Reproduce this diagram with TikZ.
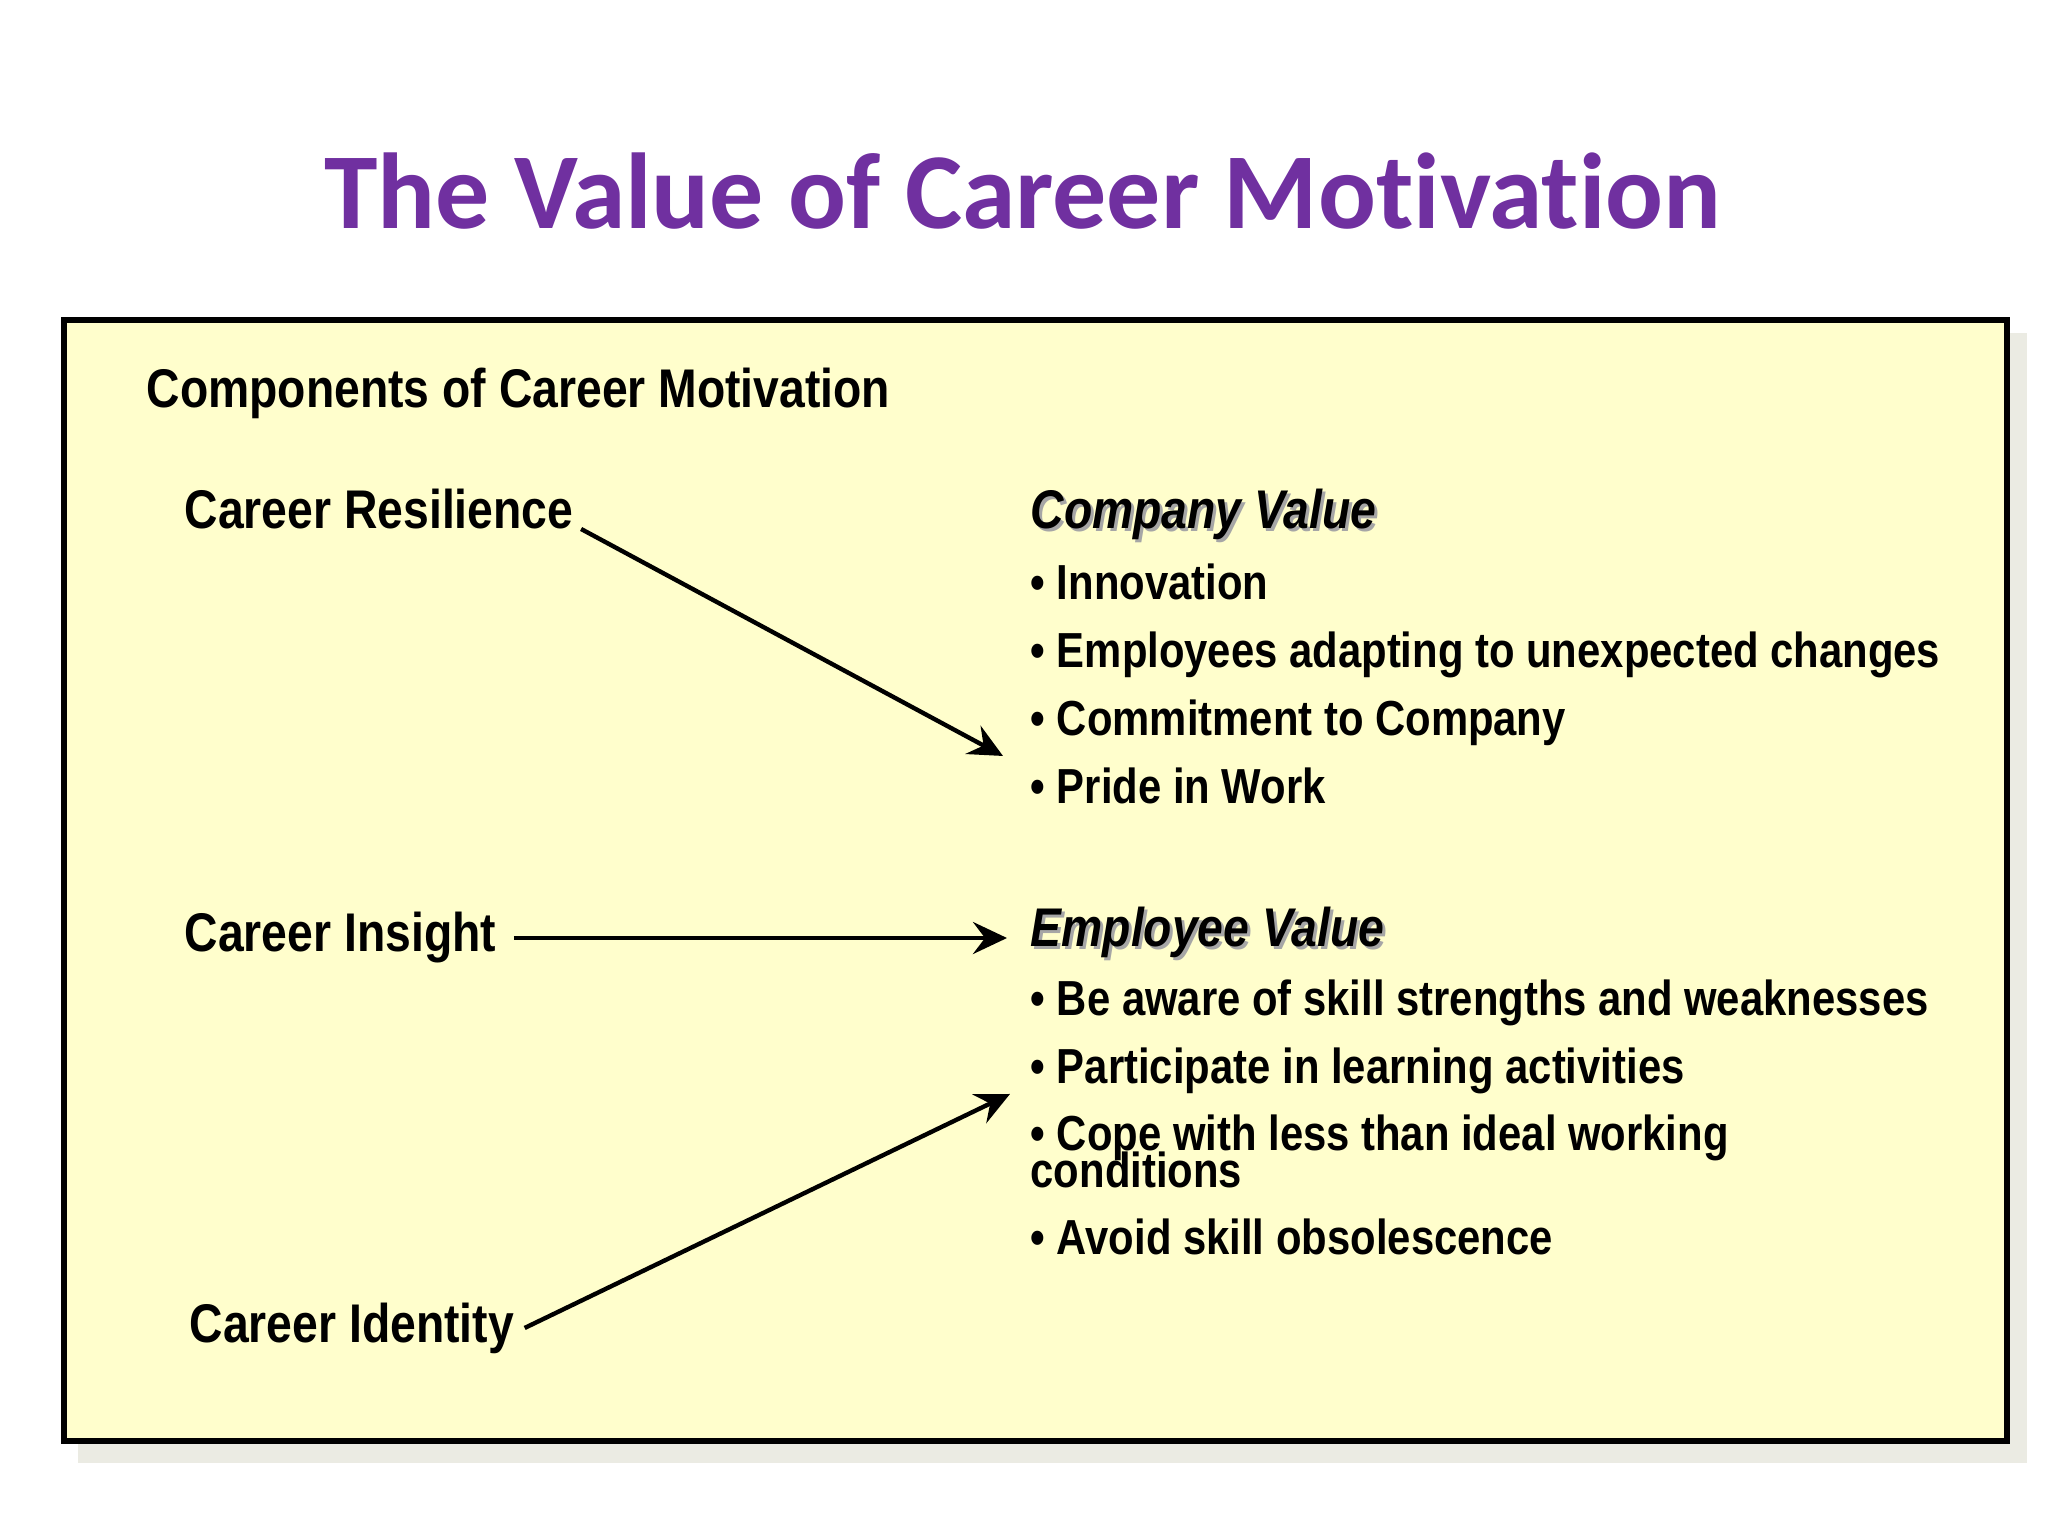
\documentclass[tikz,border=0pt]{standalone}
\usepackage{fontspec}
\usepackage{tikz}
\usetikzlibrary{arrows.meta}
\setmainfont{Liberation Sans}[FakeStretch=0.85]
\newfontfamily\titlefont{Carlito}[Ligatures=NoCommon]
\definecolor{titlepurple}{HTML}{7030A0}
\definecolor{boxyellow}{HTML}{FFFECC}
\definecolor{boxshadow}{HTML}{EBEBE3}

\begin{document}
\begin{tikzpicture}[
  lbl/.style={anchor=base west,inner sep=0pt,font=\fontsize{15.5}{18}\selectfont\bfseries},
  itm/.style={anchor=base west,inner sep=0pt,font=\fontsize{14}{17}\selectfont\bfseries},
  hdshadow/.style={lbl,text=black!35},
  arr/.style={-{Stealth[length=3.4mm,width=3.2mm,inset=1.2mm]},line width=1.25pt}]
  \useasboundingbox (0,0) rectangle (20.48,15.36);
  \def\bx{10.30}
  \def\gap{0.68}
  % title
  \node (title) at (10.23,13.07) [anchor=base,inner sep=0pt,text=titlepurple,
       font=\titlefont\fontsize{30.7}{36}\selectfont\bfseries] {The Value of Career Motivation};
  % box with its shadow
  \fill[boxshadow] (0.78,0.73) rectangle (20.27,12.03);
  \draw[fill=boxyellow,line width=1.6pt] (0.64,0.95) rectangle (20.07,12.16);
  \node (comp) at (1.46,11.28) [lbl] {Components of Career Motivation};
  % components
  \node (cres) at (1.84,10.07) [lbl] {Career Resilience};
  \node (cins) at (1.84,5.84) [lbl] {Career Insight};
  \node (cid) at (1.89,1.93) [lbl] {Career Identity};
  % company value
  \node (cvs) at (\bx+0.03,10.04) [hdshadow] {\itshape Company Value};
  \node (cv) at (\bx,10.07) [lbl] {\itshape Company Value};
  \foreach \t [count=\i] in {Innovation,Employees adapting to unexpected changes,
                             Commitment to Company,Pride in Work} {
    \node (cv\i) at (\bx,9.36-\gap*\i+\gap) [itm] {• \t};
  }
  % employee value
  \node (evs) at (\bx+0.03,5.86) [hdshadow] {\itshape Employee Value};
  \node (ev) at (\bx,5.89) [lbl] {\itshape Employee Value};
  \node (ev1) at (\bx,5.20) [itm] {• Be aware of skill strengths and weaknesses};
  \node (ev2) at (\bx,4.52) [itm] {• Participate in learning activities};
  \node (ev3) at (\bx,3.85) [itm] {• Cope with less than ideal working};
  \node (ev3b) at (\bx,3.48) [itm] {conditions};
  \node (ev4) at (\bx,2.81) [itm] {• Avoid skill obsolescence};
  % arrows
  \coordinate (tipa) at (10.03,7.80);
  \coordinate (tipb) at (10.07,6.00);
  \coordinate (tipc) at (10.10,4.42);
  \draw[arr] ([xshift=0.7mm]cres.base east) -- (tipa);
  \draw[arr] ([xshift=1.7mm]cins.east) -- (cins.east -| tipb);
  \draw[arr] ([xshift=1mm,yshift=1.5mm]cid.base east) -- (tipc);
\end{tikzpicture}
\end{document}
